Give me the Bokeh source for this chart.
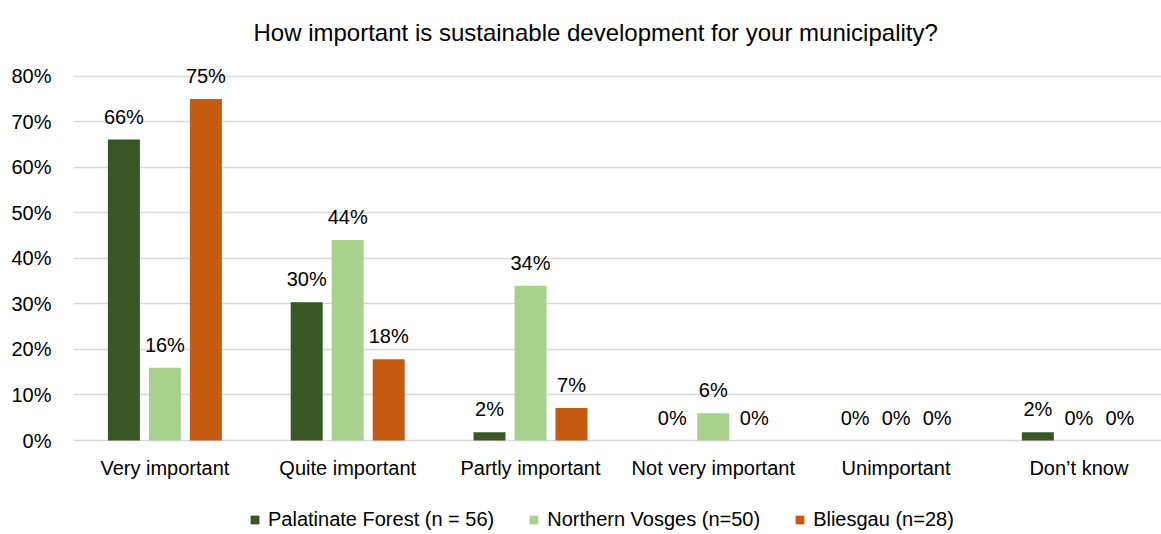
from bokeh.plotting import figure
from bokeh.models import (ColumnDataSource, Range1d, FixedTicker, Legend, LegendItem,
                          LabelSet, NumeralTickFormatter)
from bokeh.core.properties import value
from bokeh.embed import file_html
from bokeh.resources import INLINE

categories = ["Very important", "Quite important", "Partly important",
              "Not very important", "Unimportant", "Don\u2019t know"]
series_names = ["Palatinate Forest (n = 56)", "Northern Vosges (n=50)", "Bliesgau (n=28)"]
palatinate = [66.07, 30.36, 1.79, 0.0, 0.0, 1.79]
vosges = [16.0, 44.0, 34.0, 6.0, 0.0, 0.0]
bliesgau = [75.0, 17.86, 7.14, 0.0, 0.0, 0.0]
y_ticks = [0, 10, 20, 30, 40, 50, 60, 70, 80]

colors = ["#385723", "#A9D18E", "#C55A11"]
FONT = "Liberation Sans"
FS = "20px"

p = figure(width=1161, height=534, output_backend="svg", toolbar_location=None,
           x_range=Range1d(-0.5, 5.452), y_range=Range1d(-0.2064, 0.8388),
           min_border_left=73, min_border_right=0, min_border_top=58, min_border_bottom=0)
p.outline_line_color = None
p.background_fill_color = "white"
p.border_fill_color = "white"

p.title.text = "How important is sustainable development for your municipality?"
p.title.align = "left"
p.title.offset = 180
p.title.standoff = 26
p.title.text_font = FONT
p.title.text_font_size = "24px"
p.title.text_font_style = "normal"
p.title.text_color = "#000000"

offsets = [-0.2243, 0.0, 0.2243]
bar_w = 0.175
series = [palatinate, vosges, bliesgau]
renderers = []
for i, vals in enumerate(series):
    xs = [k + offsets[i] for k in range(len(categories))]
    ys = [v / 100.0 for v in vals]
    labels = [f"{round(v)}%" for v in vals]
    src = ColumnDataSource(dict(x=xs, top=ys, lab=labels))
    r = p.vbar(x="x", top="top", bottom=0, width=bar_w, source=src, fill_color=colors[i],
               line_color=None)
    renderers.append(r)
    ls = LabelSet(x="x", y="top", text="lab", source=src, text_align="center",
                  text_baseline="alphabetic", y_offset=16, text_font=value(FONT),
                  text_font_size=value(FS), text_color="#000000")
    p.add_layout(ls)

p.xaxis.fixed_location = 0
p.xaxis.ticker = FixedTicker(ticks=list(range(len(categories))))
p.xaxis.major_label_overrides = {i: c for i, c in enumerate(categories)}
p.xaxis.axis_line_color = None
p.xaxis.major_tick_line_color = None
p.xaxis.major_tick_out = 0
p.xaxis.minor_tick_line_color = None
p.xaxis.major_label_standoff = 16
p.xaxis.major_label_text_font = FONT
p.xaxis.major_label_text_font_size = FS
p.xaxis.major_label_text_color = "#000000"

p.yaxis.ticker = FixedTicker(ticks=[t / 100.0 for t in y_ticks])
p.yaxis.formatter = NumeralTickFormatter(format="0%")
p.yaxis.axis_line_color = None
p.yaxis.major_tick_line_color = None
p.yaxis.major_tick_out = 0
p.yaxis.minor_tick_line_color = None
p.yaxis.major_label_standoff = 22
p.yaxis.major_label_text_font = FONT
p.yaxis.major_label_text_font_size = FS
p.yaxis.major_label_text_color = "#000000"

p.xgrid.grid_line_color = None
p.ygrid.grid_line_color = "#D9D9D9"
p.ygrid.grid_line_width = 1.5

legend = Legend(items=[LegendItem(label=n, renderers=[r]) for n, r in zip(series_names, renderers)],
                orientation="horizontal", location=(176, 3),
                glyph_width=11, glyph_height=11, label_standoff=8, spacing=34,
                label_text_font=FONT, label_text_font_size=FS, label_text_color="#000000",
                border_line_color=None, background_fill_alpha=0, padding=0, margin=0)
p.add_layout(legend)

open("out.html", "w").write(file_html(p, INLINE))
